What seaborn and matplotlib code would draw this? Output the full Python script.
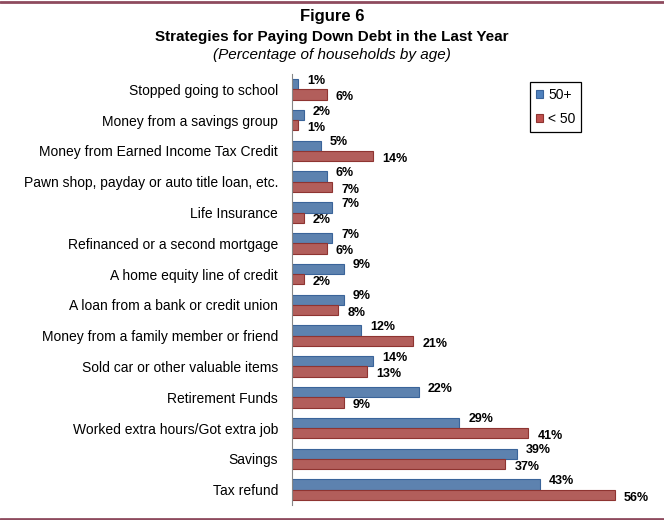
import matplotlib
matplotlib.use("Agg")
import matplotlib.pyplot as plt
import seaborn as sns
import pandas as pd
from matplotlib.lines import Line2D
from matplotlib.patches import Patch

categories = [
    "Stopped going to school",
    "Money from a savings group",
    "Money from Earned Income Tax Credit",
    "Pawn shop, payday or auto title loan, etc.",
    "Life Insurance",
    "Refinanced or a second mortgage",
    "A home equity line of credit",
    "A loan from a bank or credit union",
    "Money from a family member or friend",
    "Sold car or other valuable items",
    "Retirement Funds",
    "Worked extra hours/Got extra job",
    "Savings",
    "Tax refund",
]
series_names = ["50+", "< 50"]
values_50plus = [1, 2, 5, 6, 7, 7, 9, 9, 12, 14, 22, 29, 39, 43]
values_under50 = [6, 1, 14, 7, 2, 6, 2, 8, 21, 13, 9, 41, 37, 56]

colors = ["#4F81BD", "#C0504D"]
edges = ["#3A649A", "#8E3431"]

df = pd.DataFrame({
    "cat": categories * 2,
    "val": values_50plus + values_under50,
    "grp": [series_names[0]] * len(categories) + [series_names[1]] * len(categories),
})

sns.set_theme(style="white")
plt.rcParams["font.family"] = ["Liberation Sans", "DejaVu Sans"]
plt.rcParams["text.color"] = "black"
plt.rcParams["ytick.color"] = "black"
plt.rcParams["ytick.labelcolor"] = "black"

fig = plt.figure(figsize=(6.64, 5.2), dpi=100)
ax = fig.add_axes([292 / 664, 1 - 505 / 520, (638 - 292) / 664, (505 - 74) / 520])

sns.barplot(data=df, y="cat", x="val", hue="grp", orient="h", order=categories,
            hue_order=series_names, palette=colors, width=0.67, ax=ax,
            legend=False, errorbar=None)

label_dy = [2.5, -2.0]
for cont, ec, dy in zip(ax.containers, edges, label_dy):
    for p, v in zip(cont, cont.datavalues):
        p.set_edgecolor(ec)
        p.set_linewidth(0.8)
        ax.annotate(f"{int(round(v))}%", xy=(p.get_x() + p.get_width(), p.get_y() + p.get_height() / 2),
                    xytext=(6.5, dy), textcoords="offset points", ha="left", va="center",
                    fontsize=9, fontweight="bold", color="black")

ax.set_xlim(0, 60)
ax.set_ylim(len(categories) - 0.5, -0.5)
ax.set_xlabel("")
ax.set_ylabel("")
ax.set_xticks([])
ax.tick_params(axis="y", which="major", length=0, labelsize=10, pad=10, labelcolor="black")
ax.set_yticks([i + 0.5 for i in range(-1, len(categories))], minor=True)
ax.tick_params(axis="y", which="minor", length=5, color="#868686", width=0.8, direction="out")
for s in ["top", "right", "bottom"]:
    ax.spines[s].set_visible(False)
ax.spines["left"].set_color("#868686")
ax.spines["left"].set_linewidth(0.8)

handles = [Patch(facecolor=c, edgecolor=e, linewidth=0.8) for c, e in zip(colors, edges)]
leg = ax.legend(handles, series_names, loc="upper left", bbox_to_anchor=(0.688, 0.981),
                borderaxespad=0, fancybox=False, framealpha=1, edgecolor="black", fontsize=10,
                handlelength=0.55, handleheight=0.55, handletextpad=0.35,
                labelspacing=0.75, borderpad=0.4)
leg.get_frame().set_linewidth(0.9)

fig.text(0.5, 1 - 17 / 520, "Figure 6", ha="center", va="center", fontsize=12, fontweight="bold")
fig.text(0.5, 1 - 37 / 520, "Strategies for Paying Down Debt in the Last Year", ha="center",
         va="center", fontsize=11, fontweight="bold")
fig.text(0.5, 1 - 55 / 520, "(Percentage of households by age)", ha="center", va="center",
         fontsize=11, fontstyle="italic")

fig.add_artist(Line2D([0, 1], [1 - 1.5 / 520, 1 - 1.5 / 520], transform=fig.transFigure,
                      color="#8E4B5E", linewidth=2))
fig.add_artist(Line2D([0, 1], [1.5 / 520, 1.5 / 520], transform=fig.transFigure,
                      color="#8E4B5E", linewidth=2))

fig.savefig("out.png", dpi=100)
